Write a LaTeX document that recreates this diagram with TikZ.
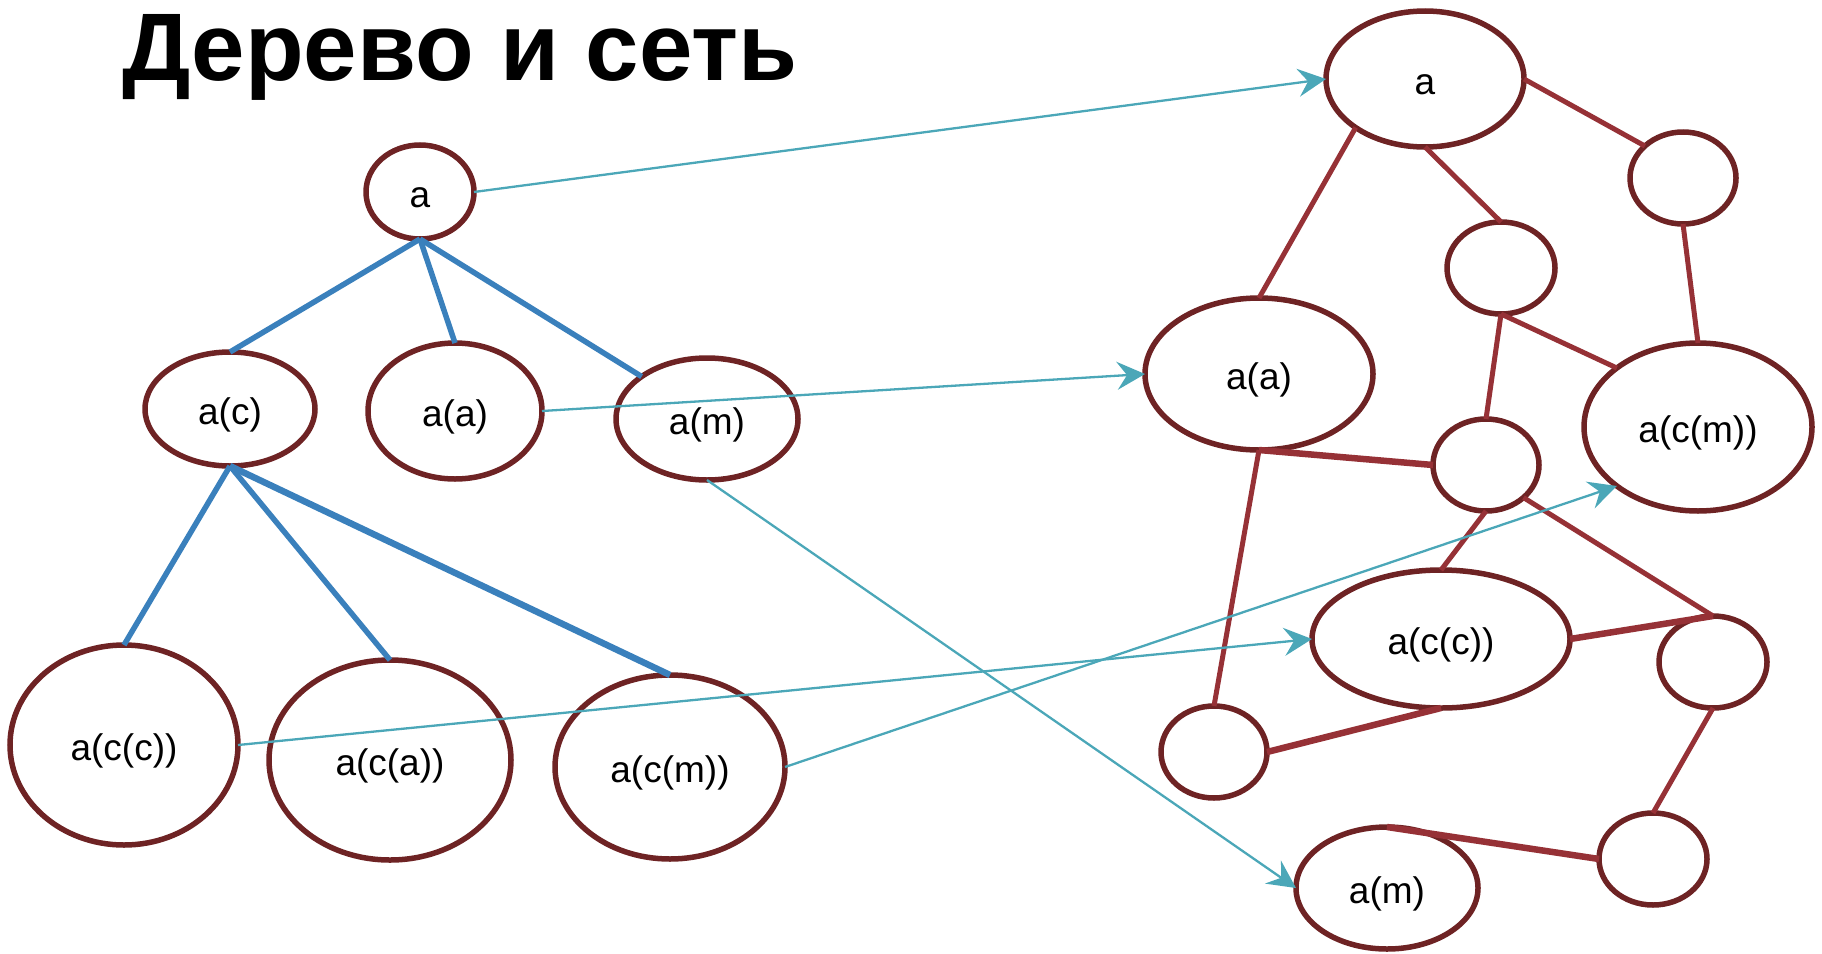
\documentclass[tikz,border=0pt]{standalone}
\usepackage{fontspec}
\setmainfont{Liberation Sans}
\usetikzlibrary{shapes.geometric,arrows.meta}
\definecolor{bord}{HTML}{6E2324}
\definecolor{redge}{HTML}{963136}
\definecolor{bedge}{HTML}{3A80BC}
\definecolor{tarrow}{HTML}{4BA7B8}
\tikzset{
  nd/.style n args={2}{ellipse, draw=bord, line width=5.5pt, inner sep=0pt, outer sep=0pt,
    minimum width=#1pt, minimum height=#2pt, font=\fontsize{37}{42}\selectfont,
    text height=34pt, text depth=3pt},
  tree/.style={draw=bedge, line width=5.5pt},
  net/.style={draw=redge, line width=5pt},
  netthick/.style={draw=redge, line width=6.5pt},
  map/.style={draw=tarrow, line width=2.3pt, -{Stealth[length=28pt,width=28pt,inset=10pt]}}
}
\begin{document}
\begin{tikzpicture}[x=1pt,y=-1pt]
\useasboundingbox (0,0) rectangle (1822,953);
\node[anchor=base west, inner sep=0pt, font=\fontsize{96}{100}\selectfont\bfseries] (title) at (122,80) {Дерево и сеть};
% left tree
\node[nd={108}{94}] (al) at (420,192) {a};
\node[nd={170}{114}] (acl) at (230,409) {a(c)};
\node[nd={174}{136}] (aal) at (455,411) {a(a)};
\node[nd={182}{122}] (aml) at (707,419) {a(m)};
\node[nd={228}{200}] (accl) at (124,745) {a(c(c))};
\node[nd={242}{200}] (accal) at (390,760) {a(c(a))};
\node[nd={230}{184}] (accml) at (670,767) {a(c(m))};
% right network
\node[nd={198}{136}] (ar) at (1425,79) {a};
\node[nd={106}{92}] (n1) at (1683,178) {};
\node[nd={108}{92}] (n2) at (1501,268) {};
\node[nd={228}{152}] (aar) at (1259,374) {a(a)};
\node[nd={228}{168}] (acmr) at (1698,427) {a(c(m))};
\node[nd={106}{92}] (n3) at (1486,465) {};
\node[nd={258}{138}] (accr) at (1441,639) {a(c(c))};
\node[nd={108}{92}] (n4) at (1713,662) {};
\node[nd={106}{92}] (n5) at (1214,752) {};
\node[nd={108}{92}] (n6) at (1653,859) {};
\node[nd={182}{122}] (amr) at (1387,888) {a(m)};
% tree edges
\draw[tree] (al.south) -- (acl.north);
\draw[tree] (al.south) -- (aal.north);
\draw[tree] (al.south) -- (aml.147);
\draw[tree] (acl.south) -- (accl.north);
\draw[tree] (acl.south) -- (accal.north);
\draw[tree, line width=6.5pt] (acl.south) -- (accml.north);
% network edges
\draw[net] (ar.215) -- (aar.north);
\draw[net] (ar.south) -- (n2.north);
\draw[net] (ar.east) -- (n1.140);
\draw[net] (n1.south) -- (acmr.north);
\draw[net] (n2.south) -- (acmr.144);
\draw[net] (n2.south) -- (n3.north);
\draw[netthick] (aar.south) -- (n3.west);
\draw[net] (aar.south) -- (n5.north);
\draw[net] (n3.south) -- (accr.north);
\draw[net] (n3.319) -- (n4.north);
\draw[netthick] (accr.east) -- (n4.north);
\draw[netthick] (accr.south) -- (n5.east);
\draw[net] (n4.south) -- (n6.north);
\draw[netthick] (n6.west) -- (amr.north);
% mapping arrows
\draw[map] (al.east) -- (ar.west);
\draw[map] (aal.east) -- (aar.west);
\draw[map] (aml.south) -- (amr.west);
\draw[map] (accl.east) -- (accr.west);
\draw[map] (accml.east) -- (acmr.216);
\end{tikzpicture}
\end{document}
